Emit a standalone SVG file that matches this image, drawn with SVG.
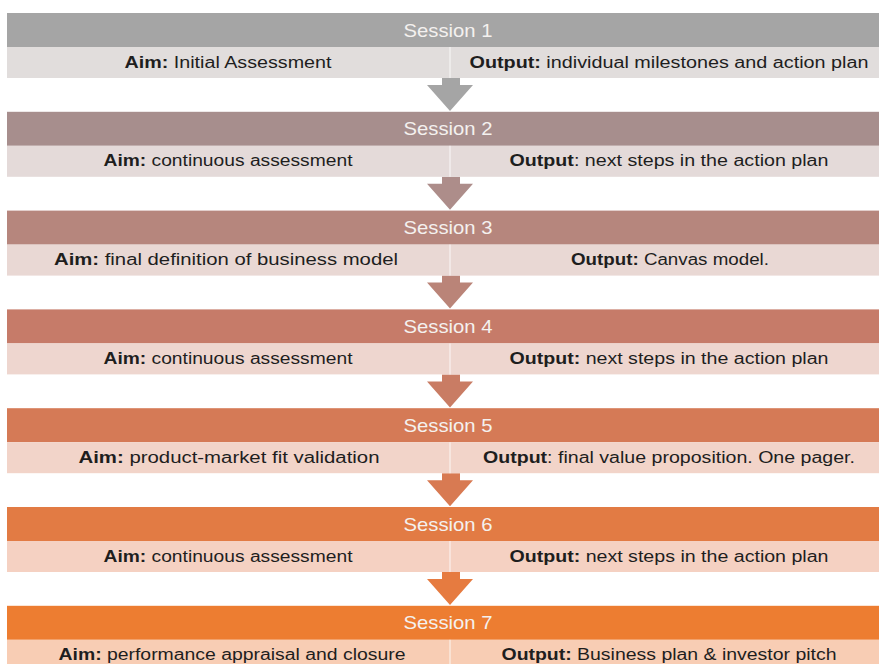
<svg xmlns="http://www.w3.org/2000/svg" width="879" height="664" viewBox="0 0 879 664">
<style>
.h{font-family:"Liberation Sans",Arial,sans-serif;font-size:19px;fill:#f4f1ef;text-anchor:middle}
.t{font-family:"Liberation Sans",Arial,sans-serif;font-size:16px;fill:#1e1e1e;text-anchor:middle}
.b{font-weight:bold}
.div{stroke:#ffffff;stroke-width:1.2;opacity:0.7}
</style>
<defs>
<path id="arr" d="M442,78 H460 V85 H473 L450,111 L427,85 H442 Z"/>
</defs>
<rect width="879" height="664" fill="#ffffff"/>
<g id="connectors">
<use href="#arr" fill="#a5a5a5"/>
<use href="#arr" fill="#ad8d8a" transform="translate(0,98.8)"/>
<use href="#arr" fill="#ba8478" transform="translate(0,197.6)"/>
<use href="#arr" fill="#c97c64" transform="translate(0,296.4)"/>
<use href="#arr" fill="#d87a52" transform="translate(0,395.2)"/>
<use href="#arr" fill="#e67b40" transform="translate(0,494)"/>
</g>
<g id="session1">
<rect x="7" y="13" width="872" height="34" fill="#a5a5a5"/>
<rect x="7" y="47" width="872" height="31" fill="#e1dddc"/>
<line class="div" x1="450" y1="47" x2="450" y2="78"/>
<text class="h" x="448" y="36.5" textLength="89" lengthAdjust="spacingAndGlyphs">Session 1</text>
<text class="t" x="228" y="67.5" textLength="207" lengthAdjust="spacingAndGlyphs"><tspan class="b">Aim:</tspan> Initial Assessment</text>
<text class="t" x="669" y="67.5" textLength="399" lengthAdjust="spacingAndGlyphs"><tspan class="b">Output:</tspan> individual milestones and action plan</text>
</g>
<g id="session2">
<rect x="7" y="111.8" width="872" height="34" fill="#a78e8d"/>
<rect x="7" y="145.8" width="872" height="31" fill="#e4dad9"/>
<line class="div" x1="450" y1="145.8" x2="450" y2="176.8"/>
<text class="h" x="448" y="135.3" textLength="89" lengthAdjust="spacingAndGlyphs">Session 2</text>
<text class="t" x="228" y="166.3" textLength="249" lengthAdjust="spacingAndGlyphs"><tspan class="b">Aim:</tspan> continuous assessment</text>
<text class="t" x="669" y="166.3" textLength="319" lengthAdjust="spacingAndGlyphs"><tspan class="b">Output</tspan>: next steps in the action plan</text>
</g>
<g id="session3">
<rect x="7" y="210.6" width="872" height="34" fill="#b6867d"/>
<rect x="7" y="244.6" width="872" height="31" fill="#e9d8d4"/>
<line class="div" x1="450" y1="244.6" x2="450" y2="275.6"/>
<text class="h" x="448" y="234.1" textLength="89" lengthAdjust="spacingAndGlyphs">Session 3</text>
<text class="t" x="226" y="265.1" textLength="344" lengthAdjust="spacingAndGlyphs"><tspan class="b">Aim:</tspan> final definition of business model</text>
<text class="t" x="670" y="265.1" textLength="198" lengthAdjust="spacingAndGlyphs"><tspan class="b">Output:</tspan> Canvas model.</text>
</g>
<g id="session4">
<rect x="7" y="309.4" width="872" height="34" fill="#c67b69"/>
<rect x="7" y="343.4" width="872" height="31" fill="#eed6cf"/>
<line class="div" x1="450" y1="343.4" x2="450" y2="374.4"/>
<text class="h" x="448" y="332.9" textLength="89" lengthAdjust="spacingAndGlyphs">Session 4</text>
<text class="t" x="228" y="363.9" textLength="249" lengthAdjust="spacingAndGlyphs"><tspan class="b">Aim:</tspan> continuous assessment</text>
<text class="t" x="669" y="363.9" textLength="319" lengthAdjust="spacingAndGlyphs"><tspan class="b">Output:</tspan> next steps in the action plan</text>
</g>
<g id="session5">
<rect x="7" y="408.2" width="872" height="34" fill="#d57a56"/>
<rect x="7" y="442.2" width="872" height="31" fill="#f2d4c9"/>
<line class="div" x1="450" y1="442.2" x2="450" y2="473.2"/>
<text class="h" x="448" y="431.7" textLength="89" lengthAdjust="spacingAndGlyphs">Session 5</text>
<text class="t" x="229" y="462.7" textLength="301" lengthAdjust="spacingAndGlyphs"><tspan class="b">Aim:</tspan> product-market fit validation</text>
<text class="t" x="669" y="462.7" textLength="372" lengthAdjust="spacingAndGlyphs"><tspan class="b">Output</tspan>: final value proposition. One pager.</text>
</g>
<g id="session6">
<rect x="7" y="507" width="872" height="34" fill="#e27b44"/>
<rect x="7" y="541" width="872" height="31" fill="#f5d1c2"/>
<line class="div" x1="450" y1="541" x2="450" y2="572"/>
<text class="h" x="448" y="530.5" textLength="89" lengthAdjust="spacingAndGlyphs">Session 6</text>
<text class="t" x="228" y="561.5" textLength="249" lengthAdjust="spacingAndGlyphs"><tspan class="b">Aim:</tspan> continuous assessment</text>
<text class="t" x="669" y="561.5" textLength="319" lengthAdjust="spacingAndGlyphs"><tspan class="b">Output:</tspan> next steps in the action plan</text>
</g>
<g id="session7">
<rect x="7" y="605.8" width="872" height="34" fill="#ed7d31"/>
<rect x="7" y="639.8" width="872" height="31" fill="#f8cdb4"/>
<line class="div" x1="450" y1="639.8" x2="450" y2="670"/>
<text class="h" x="448" y="629.3" textLength="89" lengthAdjust="spacingAndGlyphs">Session 7</text>
<text class="t" x="232" y="660.3" textLength="347" lengthAdjust="spacingAndGlyphs"><tspan class="b">Aim:</tspan> performance appraisal and closure</text>
<text class="t" x="669" y="660.3" textLength="335" lengthAdjust="spacingAndGlyphs"><tspan class="b">Output:</tspan> Business plan &amp; investor pitch</text>
</g>
</svg>
